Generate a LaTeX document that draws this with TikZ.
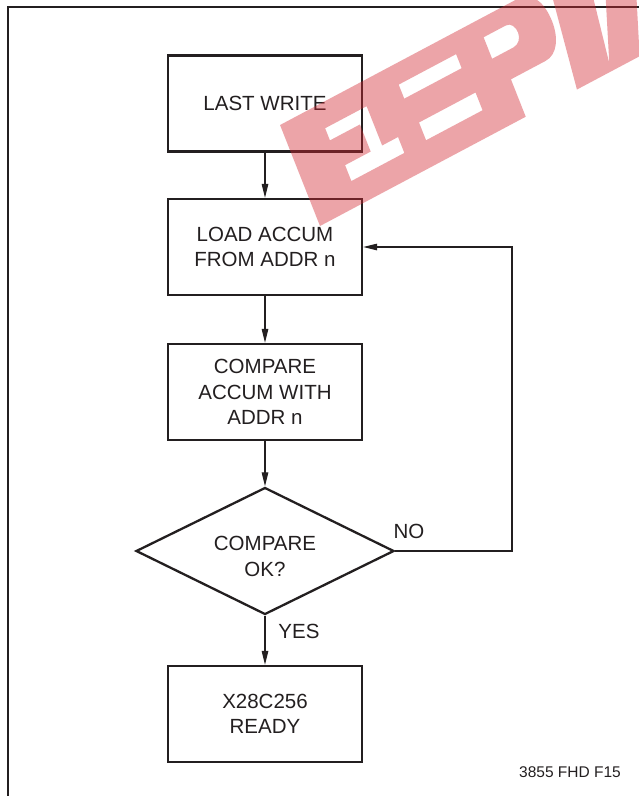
\documentclass[tikz,border=0pt]{standalone}
\usepackage{fontspec}
\setmainfont{Liberation Sans}
\usetikzlibrary{arrows.meta,shapes.geometric}
\definecolor{ink}{RGB}{35,31,32}
\definecolor{wmred}{RGB}{210,40,50}
\tikzset{
  x=1pt, y=-1pt,
  procbox/.style={draw=ink, line width=2.3pt, text=ink, minimum width=194pt, minimum height=96pt, inner sep=0pt, align=center, font=\fontsize{20.5}{25.5}\selectfont},
  decision/.style={diamond, draw=ink, line width=2.3pt, text=ink, shape aspect=2, minimum width=258pt, minimum height=127pt, inner sep=0pt, align=center, font=\fontsize{20.5}{25.5}\selectfont},
  flow/.style={draw=ink, line width=1.1pt, -{Triangle[length=14pt,width=6.5pt]}},
  lbl/.style={text=ink, inner sep=0pt, font=\fontsize{20.5}{25.5}\selectfont},
  frameline/.style={draw=ink, line width=1.1pt},
  watermark/.style={fill=wmred, fill opacity=0.42, even odd rule},
}
\begin{document}
\begin{tikzpicture}
\clip (0,0) rectangle (639,796);
\fill[white] (0,0) rectangle (639,796);
\draw[frameline] (8,800) -- (8,7) -- (645,7);

\node[procbox] (write) at (265,103.5) {LAST WRITE};
\node[procbox] (load) at (265,247) {LOAD ACCUM\\FROM ADDR n};
\node[procbox] (cmp) at (265,392) {COMPARE\\ACCUM WITH\\ADDR n};
\node[decision] (ok) at (265,551) {\rule{0pt}{24.7pt}COMPARE\\OK?};
\node[procbox] (ready) at (265,714) {X28C256\\READY};

\coordinate (loopc) at (512,551);
\draw[flow] (write) -- (load);
\draw[flow] (load) -- (cmp);
\draw[flow] (cmp.south) -- (ok.north);
\draw[flow] (ok.south) -- (ready.north);
\draw[flow] (ok.east) -- (loopc) |- (load.east);

\node[lbl] (no) at (409,531) {NO};
\node[lbl] (yes) at (299,631) {YES};
\node[text=ink, inner sep=0pt, font=\fontsize{15.5}{18}\selectfont] (fig) at (570,772) {3855 FHD F15};

% watermark (rotated band of letters), local coordinates
\begin{scope}[shift={(320,226)}, x={(0.883pt,0.469pt)}, y={(-0.370pt,0.935pt)}]
  \fill[watermark]
    (0,0) -- (233,0) -- (233,40) -- (272,40)
      .. controls (286,40) and (293,55) .. (293,72)
      .. controls (293,93) and (285,108) .. (268,108)
      -- (0,108) -- cycle
    (41,84) -- (88,84) -- (88,42) -- (106,42) -- (106,25) -- (46,25)
      -- (46,42) -- (75,42) -- (75,71) -- (41,71) -- cycle
    (126,73) -- (191,73) -- (191,88) -- (126,88) -- cycle
    (131,26) -- (195,26) -- (195,45) -- (131,45) -- cycle
    (223,67) -- (223,90) -- (248,90)
      .. controls (254,90) and (257,84) .. (257,78)
      .. controls (257,72) and (253,67) .. (247,67) -- cycle;
  \fill[watermark]
    (291,0) -- (362,0) -- (400,108) -- (366,108) -- (331,8) -- (345,108) -- (304,108) -- cycle;
\end{scope}
\end{tikzpicture}
\end{document}
